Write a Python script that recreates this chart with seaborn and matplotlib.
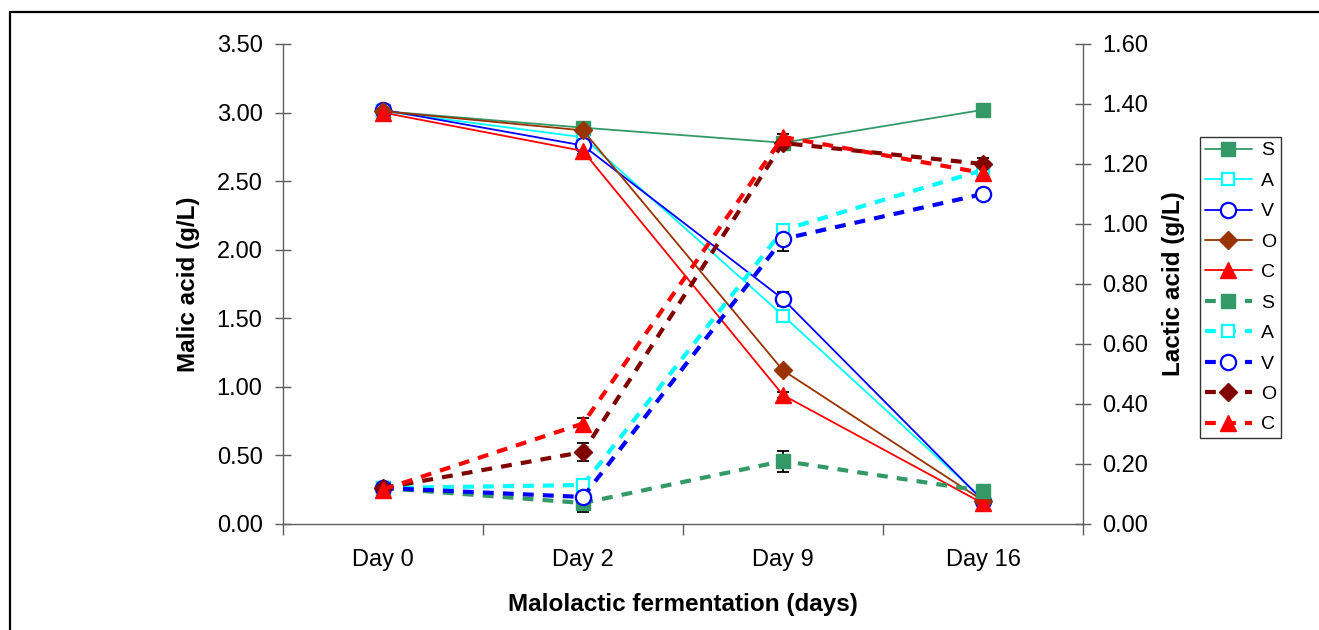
import matplotlib
matplotlib.use("Agg")
import matplotlib.pyplot as plt
from matplotlib.patches import Rectangle
from matplotlib.ticker import FixedLocator, NullFormatter
import numpy as np
import pandas as pd
import seaborn as sns

# ---- data -------------------------------------------------------------
days = ["Day 0", "Day 2", "Day 9", "Day 16"]
treatments = ["S", "A", "V", "O", "C"]

# Malic acid, g/L (left axis, solid lines)
malic_S = [3.01, 2.89, 2.78, 3.02]
malic_A = [3.01, 2.82, 1.52, 0.18]
malic_V = [3.02, 2.76, 1.64, 0.17]
malic_O = [3.01, 2.87, 1.12, 0.17]
malic_C = [3.00, 2.72, 0.94, 0.15]

# Lactic acid, g/L (right axis, dashed lines)
lactic_S = [0.12, 0.07, 0.21, 0.11]
lactic_A = [0.12, 0.13, 0.98, 1.18]
lactic_V = [0.12, 0.09, 0.95, 1.10]
lactic_O = [0.12, 0.24, 1.27, 1.20]
lactic_C = [0.115, 0.335, 1.29, 1.17]

# standard deviations
malic_err_S = [0.01, 0.02, 0.02, 0.02]
malic_err_A = [0.01, 0.02, 0.03, 0.02]
malic_err_V = [0.01, 0.02, 0.05, 0.02]
malic_err_O = [0.01, 0.02, 0.02, 0.02]
malic_err_C = [0.01, 0.02, 0.02, 0.05]

lactic_err_S = [0.005, 0.03, 0.035, 0.01]
lactic_err_A = [0.005, 0.02, 0.01, 0.02]
lactic_err_V = [0.005, 0.02, 0.04, 0.01]
lactic_err_O = [0.005, 0.03, 0.01, 0.02]
lactic_err_C = [0.005, 0.02, 0.01, 0.01]

malic = {"S": malic_S, "A": malic_A, "V": malic_V, "O": malic_O, "C": malic_C}
lactic = {"S": lactic_S, "A": lactic_A, "V": lactic_V, "O": lactic_O, "C": lactic_C}
malic_err = {"S": malic_err_S, "A": malic_err_A, "V": malic_err_V,
             "O": malic_err_O, "C": malic_err_C}
lactic_err = {"S": lactic_err_S, "A": lactic_err_A, "V": lactic_err_V,
              "O": lactic_err_O, "C": lactic_err_C}

left_ticks = [0.0, 0.5, 1.0, 1.5, 2.0, 2.5, 3.0, 3.5]
right_ticks = [0.0, 0.2, 0.4, 0.6, 0.8, 1.0, 1.2, 1.4, 1.6]

# ---- styles -----------------------------------------------------------
solid_color = {"S": "#339966", "A": "#00FFFF", "V": "#0000FF", "O": "#993300", "C": "#FF0000"}
dashed_color = {"S": "#339966", "A": "#00FFFF", "V": "#0000FF", "O": "#800000", "C": "#FF0000"}
marker = {"S": "s", "A": "s", "V": "o", "O": "D", "C": "^"}
msize = {"S": 10, "A": 8, "V": 11, "O": 9, "C": 12}
hollow = {"S": False, "A": True, "V": True, "O": False, "C": False}

sns.set_theme(style="white")
plt.rcParams["font.family"] = ["Liberation Sans", "DejaVu Sans"]
plt.rcParams["text.color"] = "black"
plt.rcParams["axes.labelcolor"] = "black"

fig = plt.figure(figsize=(13.19, 6.30), dpi=100)
ax = fig.add_axes([283 / 1319, 1 - 524 / 630, 800 / 1319, 480 / 630])
ax2 = ax.twinx()

x = np.arange(len(days))
handles = []


def draw(axis, values, errs, colors, ls, lw, dashes):
    hs = []
    for t in treatments:
        df = pd.DataFrame({"x": x, "y": values[t]})
        c = colors[t]
        kw = dict(marker=marker[t], markersize=msize[t], markeredgecolor=c,
                  markerfacecolor="white" if hollow[t] else c,
                  markeredgewidth=1.6 if hollow[t] else 1.0)
        axis.errorbar(x, values[t], yerr=errs[t], fmt="none", ecolor="black",
                      elinewidth=1.3, capsize=4.5, capthick=1.3, zorder=2)
        sns.lineplot(data=df, x="x", y="y", ax=axis, color=c, linewidth=lw,
                     linestyle=ls, legend=False, zorder=3, **kw)
        line = axis.lines[-1]
        if dashes is not None:
            line.set_dashes(dashes)
        hs.append(line)
    return hs


handles += draw(ax, malic, malic_err, solid_color, "-", 1.3, None)
handles += draw(ax2, lactic, lactic_err, dashed_color, "--", 3.0, (2.6, 2.2))

# ---- axes -------------------------------------------------------------
spine_c = "#5e5e5e"
ax.set_xlim(-0.5, 3.5)
ax.set_ylim(0, 3.5)
ax2.set_ylim(0, 1.6)
ax.set_yticks(left_ticks)
ax.set_yticklabels([f"{v:.2f}" for v in left_ticks])
ax2.set_yticks(right_ticks)
ax2.set_yticklabels([f"{v:.2f}" for v in right_ticks])
ax.set_xticks(x)
ax.set_xticklabels(days)
ax.xaxis.set_minor_locator(FixedLocator([-0.5, 0.5, 1.5, 2.5, 3.5]))
ax.xaxis.set_minor_formatter(NullFormatter())

for a in (ax, ax2):
    for s in a.spines.values():
        s.set_visible(False)
ax.spines["left"].set_visible(True)
ax.spines["bottom"].set_visible(True)
ax2.spines["right"].set_visible(True)
for s in (ax.spines["left"], ax.spines["bottom"], ax2.spines["right"]):
    s.set_color(spine_c)
    s.set_linewidth(1.0)

ax.tick_params(axis="y", which="major", direction="inout", length=11.5, width=1.0,
               color=spine_c, labelcolor="black", labelsize=17, pad=9, left=True)
ax2.tick_params(axis="y", which="major", direction="inout", length=11.5, width=1.0,
                color=spine_c, labelcolor="black", labelsize=17, pad=8, right=True)
ax.tick_params(axis="x", which="major", length=0, labelcolor="black", labelsize=17, pad=18)
ax.tick_params(axis="x", which="minor", direction="out", length=8, width=1.0,
               color=spine_c, bottom=True)

ax.set_ylabel("Malic acid (g/L)", fontsize=17.5, fontweight="bold", labelpad=12)
ax2.set_ylabel("Lactic acid (g/L)", fontsize=17.5, fontweight="bold", labelpad=10)
ax.set_xlabel("Malolactic fermentation (days)", fontsize=17.5, fontweight="bold", labelpad=16)
ax.grid(False)
ax2.grid(False)
ax.patch.set_alpha(0)

leg = fig.legend(handles, treatments + treatments, loc="upper left",
                 bbox_to_anchor=(1200 / 1319, 1 - 137 / 630), borderaxespad=0,
                 fontsize=14, frameon=True, fancybox=False, shadow=False,
                 handlelength=2.4, handletextpad=0.5, labelspacing=0.66,
                 borderpad=0.25, labelcolor="black")
leg.get_frame().set_edgecolor("black")
leg.get_frame().set_linewidth(1.0)

# outer frame around the figure
fig.patches.append(Rectangle((10 / 1319, -0.1), 1.2, 1 - 12 / 630 + 0.1,
                             transform=fig.transFigure, fill=False,
                             edgecolor="black", linewidth=1.6))

fig.savefig("out.png", dpi=100)
